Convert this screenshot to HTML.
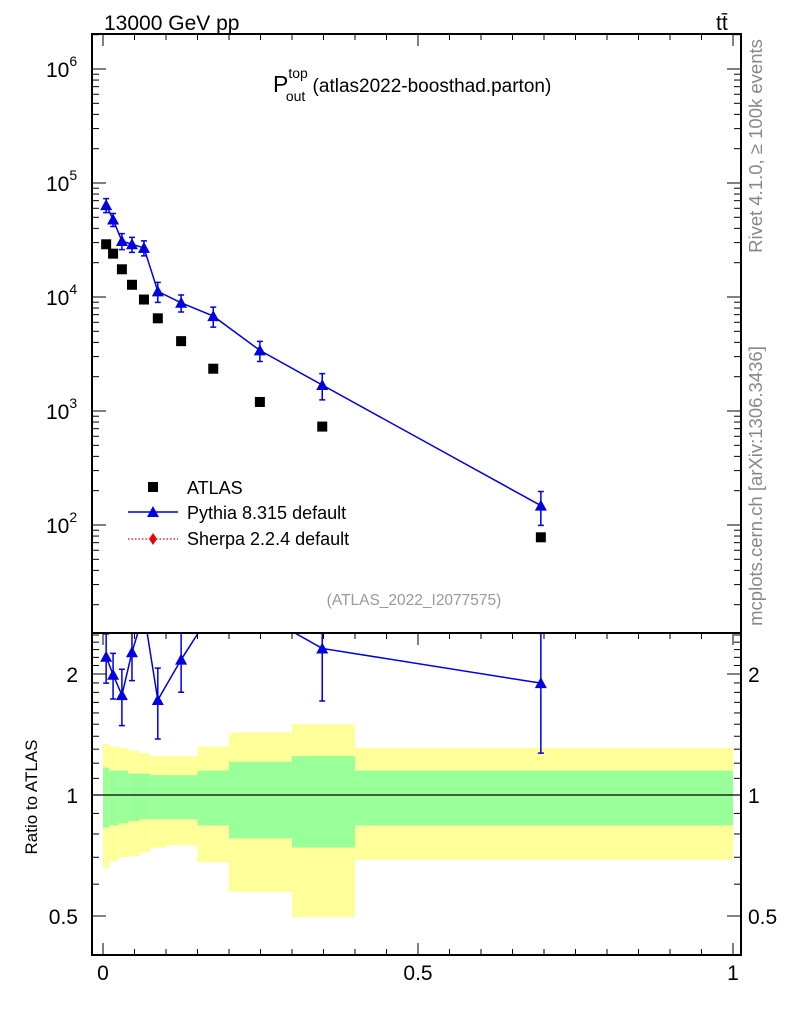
<!DOCTYPE html>
<html><head><meta charset="utf-8"><style>
html,body{margin:0;padding:0;background:#fff}
svg{display:block;font-family:"Liberation Sans",sans-serif}
</style></head><body>
<svg id="chart" width="786" height="1024" viewBox="0 0 786 1024">
<g id="band"></g>
<g id="mainG"></g>
<g id="ratioG"></g>
<g id="axes"></g>
<text x="104" y="30" font-size="21">13000 GeV pp</text>
<text x="716" y="30" font-size="21">tt̄</text>
<text x="273" y="92" font-size="23">P<tspan font-size="14" dy="-14">top</tspan><tspan font-size="14" dx="-22" dy="23">out</tspan><tspan font-size="19" dx="2" dy="-9"> (atlas2022-boosthad.parton)</tspan></text>
<text x="414" y="605" font-size="15.5" fill="#999" text-anchor="middle">(ATLAS_2022_I2077575)</text>
<text transform="translate(762,146) rotate(-90)" font-size="18.5" fill="#888" text-anchor="middle">Rivet 4.1.0, ≥ 100k events</text>
<text transform="translate(762,486) rotate(-90)" font-size="18.5" fill="#888" text-anchor="middle">mcplots.cern.ch [arXiv:1306.3436]</text>
<text transform="translate(37,797) rotate(-90)" font-size="17" text-anchor="middle">Ratio to ATLAS</text>
<g>
<rect x="148" y="482" width="10" height="10" fill="#000"/>
<text x="187" y="494" font-size="18">ATLAS</text>
<line x1="128" y1="512" x2="178" y2="512" stroke="#0000e0" stroke-width="1.5"/>
<path d="M153,506 L159,517 L147,517 Z" fill="#0000e0"/>
<text x="187" y="519" font-size="18">Pythia 8.315 default</text>
<line x1="128" y1="539" x2="178" y2="539" stroke="#d00" stroke-width="1.2" stroke-dasharray="1.5,2"/>
<path d="M153,533 L157,539 L153,545 L149,539 Z" fill="#e00"/>
<text x="187" y="545" font-size="18">Sherpa 2.2.4 default</text>
</g>
</svg>
<script>
const binEdges=[0,0.01,0.025,0.04,0.058,0.075,0.1,0.15,0.2,0.3,0.4,1.0];
const xPoints=[0.005,0.016,0.03,0.046,0.065,0.087,0.124,0.175,0.249,0.348,0.695];
const atlasVals=[29000,24000,17500,12800,9500,6500,4100,2350,1200,730,78];
const pythiaVals=[64000,47800,31000,29000,27000,11200,8900,6800,3400,1690,148];
const pythiaRelErr=[0.14,0.13,0.16,0.15,0.15,0.2,0.17,0.2,0.2,0.26,0.33];
const yellowUp=[1.34,1.32,1.31,1.29,1.27,1.25,1.25,1.32,1.43,1.50,1.31];
const greenUp=[1.17,1.15,1.15,1.13,1.13,1.12,1.12,1.15,1.21,1.25,1.15];
const greenLo=[0.83,0.84,0.85,0.86,0.87,0.87,0.87,0.84,0.78,0.74,0.84];
const yellowLo=[0.66,0.685,0.70,0.705,0.72,0.74,0.75,0.68,0.574,0.497,0.69];
const xTickLabels=["0","0.5","1"];
const mainTickLabels=["10","10","10","10","10"];

const NS="http://www.w3.org/2000/svg";
const L=92,R=741,T=34,MB=633,B=955;
const sx=v=>103+v*630;
const sy=v=>525-(Math.log10(v)-2)*114;
const ry=v=>795-Math.log10(v)*402;
function mk(p,tag,a){const e=document.createElementNS(NS,tag);for(const k in a)e.setAttribute(k,a[k]);p.appendChild(e);return e;}
const band=document.getElementById('band'),mainG=document.getElementById('mainG'),ratioG=document.getElementById('ratioG'),axes=document.getElementById('axes');
for(let i=0;i<atlasVals.length;i++){
  const x1=sx(binEdges[i]),x2=sx(binEdges[i+1]);
  const y1=mk(band,'rect',{x:x1,y:ry(yellowUp[i]),width:x2-x1,height:ry(yellowLo[i])-ry(yellowUp[i]),fill:'#ffff99'});
  
  
  const g1=mk(band,'rect',{x:x1,y:ry(greenUp[i]),width:x2-x1,height:ry(greenLo[i])-ry(greenUp[i]),fill:'#99ff99'});
  
  
}
const one=mk(band,'line',{x1:L,x2:R,y1:ry(1),y2:ry(1),stroke:'#000','stroke-width':1.2});


function tri(g,x,y){return mk(g,'path',{d:`M${x},${y-6} L${x+6},${y+5} L${x-6},${y+5} Z`,fill:'#0000e0'});}
let pts=xPoints.map((x,i)=>sx(x)+','+sy(pythiaVals[i])).join(' ');
const pl=mk(mainG,'polyline',{points:pts,fill:'none',stroke:'#0000e0','stroke-width':1.5});


xPoints.forEach((x,i)=>{
  const X=sx(x),v=pythiaVals[i],e=pythiaRelErr[i];
  const a=sy(v*(1+e)),b=sy(v*(1-e));
  mk(mainG,'path',{d:`M${X},${a}V${b}M${X-3},${a}H${X+3}M${X-3},${b}H${X+3}`,stroke:'#0000e0','stroke-width':1.5,fill:'none'});
  const t=tri(mainG,X,sy(v));
  
  
  const s=mk(mainG,'rect',{x:X-5,y:sy(atlasVals[i])-5,width:10,height:10,fill:'#000'});
  
  
});
const cp=mk(document.getElementById('chart'),'clipPath',{id:'rc'});
mk(cp,'rect',{x:L,y:MB,width:R-L,height:B-MB});
ratioG.setAttribute('clip-path','url(#rc)');
const rpts=xPoints.map((x,i)=>sx(x)+','+ry(pythiaVals[i]/atlasVals[i])).join(' ');
const rl=mk(ratioG,'polyline',{points:rpts,fill:'none',stroke:'#0000e0','stroke-width':1.5});


xPoints.forEach((x,i)=>{
  const X=sx(x),r=pythiaVals[i]/atlasVals[i],e=pythiaRelErr[i];
  if(ry(r)<MB) return;
  const a=ry(r*(1+e)),b=ry(r*(1-e));
  mk(ratioG,'path',{d:`M${X},${a}V${b}M${X-3},${a}H${X+3}M${X-3},${b}H${X+3}`,stroke:'#0000e0','stroke-width':1.5,fill:'none'});
  const t=tri(ratioG,X,ry(r));
  
  
});
mk(axes,'rect',{x:L,y:T,width:R-L,height:MB-T,fill:'none',stroke:'#000','stroke-width':2});
mk(axes,'rect',{x:L,y:MB,width:R-L,height:B-MB,fill:'none',stroke:'#000','stroke-width':2});
for(let k=0;k<=20;k++){
  const v=k*0.05,X=sx(v),len=(k%10==0)?12:6;
  mk(axes,'line',{x1:X,x2:X,y1:T,y2:T+len,stroke:'#000'});
  mk(axes,'line',{x1:X,x2:X,y1:MB,y2:MB+len,stroke:'#000'});
  mk(axes,'line',{x1:X,x2:X,y1:B,y2:B-len,stroke:'#000'});
}
xTickLabels.forEach((s,i)=>{
  const t=mk(axes,'text',{x:sx(i*0.5),y:980,'font-size':21,'text-anchor':'middle'});t.textContent=s;
  
  
});
for(let d=1;d<=6;d++){
  for(let m=1;m<10;m++){
    const v=m*Math.pow(10,d),Y=sy(v);
    if(Y<T||Y>MB)continue;
    const len=m==1?14:7;
    mk(axes,'line',{x1:L,x2:L+len,y1:Y,y2:Y,stroke:'#000'});
    mk(axes,'line',{x1:R,x2:R-len,y1:Y,y2:Y,stroke:'#000'});
  }
}
mainTickLabels.forEach((s,i)=>{
  const d=2+i,Y=sy(Math.pow(10,d));
  const t=mk(axes,'text',{x:46,y:Y+8,'font-size':21});
  t.textContent=s;
  const ts=mk(t,'tspan',{'font-size':14,dy:-11});ts.textContent=String(d);
  
  
});
for(let k=4;k<=25;k++){
  const v=k/10,Y=ry(v);
  if(Y<MB||Y>B)continue;
  const big=(v==0.5||v==1||v==2);
  const len=big?14:7;
  mk(axes,'line',{x1:L,x2:L+len,y1:Y,y2:Y,stroke:'#000'});
  mk(axes,'line',{x1:R,x2:R-len,y1:Y,y2:Y,stroke:'#000'});
}
[["0.5",0.5],["1",1],["2",2]].forEach(([s,v])=>{
  const t1=mk(axes,'text',{x:78,y:ry(v)+8,'font-size':21,'text-anchor':'end'});t1.textContent=s;
  
  
  const t2=mk(axes,'text',{x:748,y:ry(v)+8,'font-size':21});t2.textContent=s;
  
  
});
</script>
</body></html>
